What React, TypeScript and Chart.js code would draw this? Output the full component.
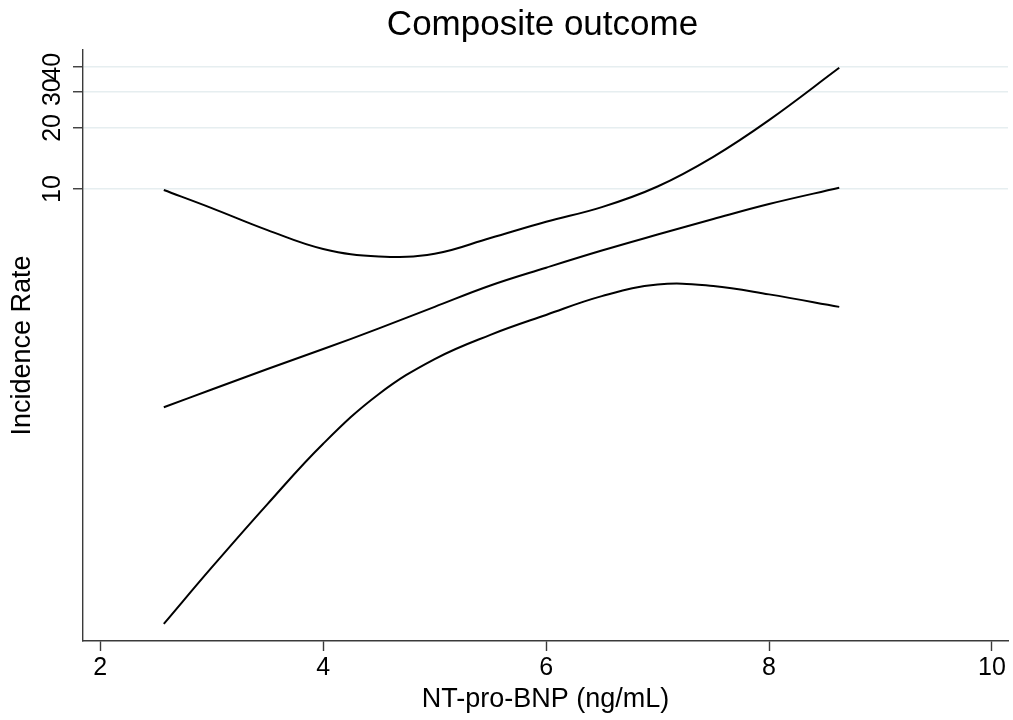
import React, { useEffect, useRef } from "react";
import { Chart, registerables } from "chart.js";

Chart.register(...registerables);

const titleText = "Composite outcome";
const xTitle = "NT-pro-BNP (ng/mL)";
const yTitle = "Incidence Rate";

const xTicks = [2, 4, 6, 8, 10];
const yTicks = [10, 20, 30, 40];

const nbp = [2.57, 3.0, 3.5, 4.0, 4.5, 5.0, 5.5, 6.0, 6.5, 7.0, 7.5, 8.0, 8.63];
const upperCI = [9.89, 8.06, 6.28, 5.07, 4.66, 4.80, 5.74, 6.9, 8.15, 10.3, 14.42, 21.86, 39.56];
const estimate = [0.842, 1.03, 1.3, 1.63, 2.06, 2.63, 3.35, 4.1, 4.98, 5.97, 7.12, 8.44, 10.15];
const lowerCI = [0.0722, 0.137, 0.281, 0.557, 0.979, 1.455, 1.915, 2.4, 2.97, 3.39, 3.33, 3.03, 2.63];

const FONT = "'Liberation Sans', Arial, Helvetica, sans-serif";
const AXIS_COLOR = "#3a3a3a";
const GRID_COLOR = "#e6eef0";

const centeredTitle = {
  id: "centeredTitle",
  afterDraw(chart: any) {
    const { ctx, chartArea } = chart;
    ctx.save();
    ctx.font = `35px ${FONT}`;
    ctx.fillStyle = "#000";
    ctx.textAlign = "center";
    ctx.textBaseline = "alphabetic";
    ctx.fillText(titleText, (chartArea.left + chartArea.right) / 2 - 3, 35);
    ctx.restore();
  },
};

function toPoints(ys: number[]) {
  return nbp.map((x, i) => ({ x, y: ys[i] }));
}

export default function App() {
  const ref = useRef<HTMLCanvasElement | null>(null);

  useEffect(() => {
    if (!ref.current) return;
    Chart.defaults.font.family = FONT;
    const lineStyle = {
      borderColor: "#000",
      borderWidth: 2,
      pointRadius: 0,
      fill: false,
      tension: 0.4,
    };
    const chart = new Chart(ref.current, {
      type: "line",
      data: {
        datasets: [
          { label: "Upper", data: toPoints(upperCI), ...lineStyle },
          { label: "Estimate", data: toPoints(estimate), ...lineStyle },
          { label: "Lower", data: toPoints(lowerCI), ...lineStyle },
        ],
      },
      plugins: [centeredTitle],
      options: {
        responsive: false,
        animation: false,
        layout: { padding: { top: 50, right: 5, bottom: 0, left: 0 } },
        plugins: {
          legend: { display: false },
          title: { display: false },
          tooltip: { enabled: false },
        },
        scales: {
          x: {
            type: "linear",
            min: 1.845,
            max: 10.144,
            afterBuildTicks: (scale: any) => {
              scale.ticks = xTicks.map((v) => ({ value: v }));
            },
            grid: {
              drawOnChartArea: false,
              drawTicks: true,
              tickLength: 10,
              tickColor: AXIS_COLOR,
              tickWidth: 1.4,
            },
            border: { display: true, color: AXIS_COLOR, width: 1.4 },
            ticks: {
              color: "#000",
              font: { size: 25, lineHeight: 1.0 },
              padding: 5,
              autoSkip: false,
              maxRotation: 0,
              callback: (v: any) => String(v),
            },
            title: {
              display: true,
              text: xTitle,
              color: "#000",
              font: { size: 27, lineHeight: 1.0 },
              padding: { top: 0, bottom: 7 },
            },
          },
          y: {
            type: "logarithmic",
            min: 0.0595,
            max: 48.4,
            bounds: "data",
            afterBuildTicks: (scale: any) => {
              scale.ticks = yTicks.map((v) => ({ value: v }));
            },
            grid: {
              drawOnChartArea: true,
              color: GRID_COLOR,
              lineWidth: 1.5,
              drawTicks: true,
              tickLength: 10,
              tickColor: AXIS_COLOR,
              tickWidth: 1.4,
            },
            border: { display: true, color: AXIS_COLOR, width: 1.4 },
            ticks: {
              color: "#000",
              font: { size: 25, lineHeight: 1.0 },
              padding: 6,
              autoSkip: false,
              minRotation: 90,
              maxRotation: 90,
              crossAlign: "center",
              callback: (v: any) => String(v),
            },
            title: {
              display: true,
              text: yTitle,
              color: "#000",
              font: { size: 27, lineHeight: 1.0 },
              padding: { top: 9, bottom: 0 },
            },
          },
        },
      },
    } as any);
    return () => chart.destroy();
  }, []);

  return (
    <div style={{ position: "absolute", left: 0, top: 0, width: 1013, height: 720, background: "#fff" }}>
      <canvas ref={ref} width={1013} height={720} style={{ display: "block" }} />
    </div>
  );
}
